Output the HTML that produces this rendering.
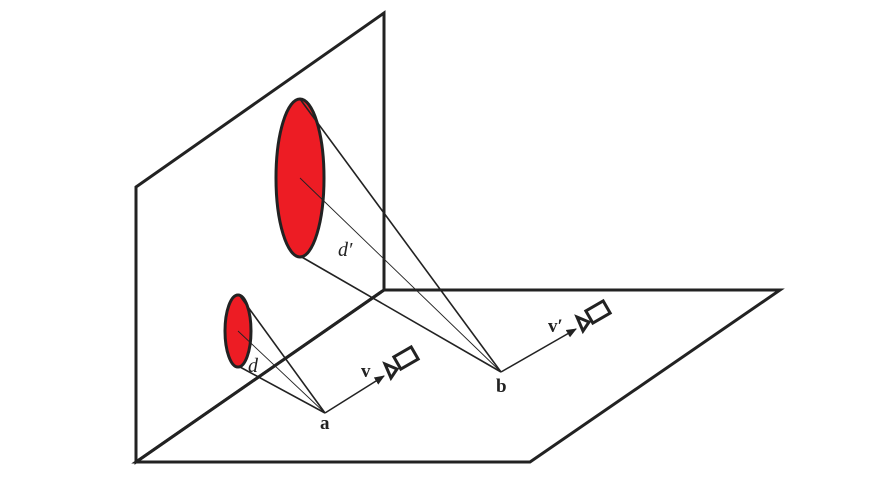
<!DOCTYPE html>
<html><head><meta charset="utf-8"><style>body{margin:0;background:#fff}svg{display:block}text{font-family:"Liberation Serif",serif}</style></head>
<body>
<svg width="884" height="478" viewBox="0 0 884 478">
<defs><marker id="ah" viewBox="0 0 10 10" refX="9" refY="5" markerWidth="7" markerHeight="7" orient="auto"><path d="M0,1 L10,5 L0,9 z" fill="#222"/></marker></defs>
<g stroke="#222" stroke-width="3" fill="none" stroke-linejoin="miter">
<polygon points="136,187 384,13 384,290 136,462"/>
<polygon points="136,462 530,462 780,290 384,290"/>
</g>
<ellipse cx="300" cy="178" rx="24" ry="79" fill="#ed1c24" stroke="#222" stroke-width="3"/>
<ellipse cx="238" cy="331" rx="13" ry="36" fill="#ed1c24" stroke="#222" stroke-width="3"/>
<g stroke="#222" stroke-width="1.6" fill="none">
<line x1="501" y1="372" x2="300" y2="99"/>
<line x1="501" y1="372" x2="300" y2="256"/>
<line x1="325" y1="413" x2="240" y2="296"/>
<line x1="325" y1="413" x2="240" y2="367"/>
</g>
<g stroke="#222" stroke-width="0.9">
<line x1="501" y1="372" x2="300" y2="178"/>
<line x1="325" y1="413" x2="238" y2="331"/>
</g>
<line x1="325" y1="413" x2="384" y2="376" stroke="#222" stroke-width="1.5" marker-end="url(#ah)"/>
<line x1="501" y1="372" x2="576" y2="329" stroke="#222" stroke-width="1.5" marker-end="url(#ah)"/>
<g stroke="#222" stroke-width="3" fill="#fff">
<polygon points="385,364 397,369 391,378"/>
<rect x="396" y="351" width="20" height="14" transform="rotate(-30 406 358)"/>
</g>
<g stroke="#222" stroke-width="3" fill="#fff">
<polygon points="577,317 589,322 583,331"/>
<rect x="588" y="305" width="20" height="14" transform="rotate(-30 598 312)"/>
</g>
<g fill="#222">
<text x="320" y="429" font-size="19" font-weight="bold">a</text>
<text x="361" y="377" font-size="19" font-weight="bold">v</text>
<text x="496" y="392" font-size="19" font-weight="bold">b</text>
<text x="548" y="332" font-size="19" font-weight="bold">v′</text>
<text x="248" y="372" font-size="20" font-style="italic">d</text>
<text x="338" y="256" font-size="20" font-style="italic">d′</text>
</g>
</svg>
</body></html>
